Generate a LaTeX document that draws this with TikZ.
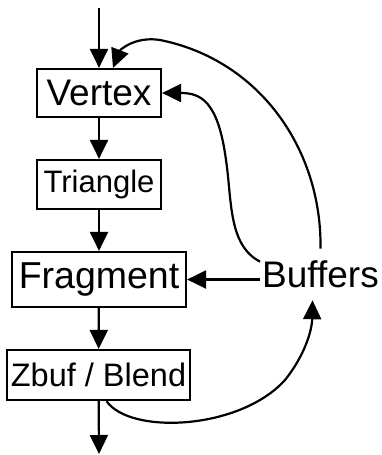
\documentclass[tikz,border=0pt]{standalone}
\usepackage{fontspec}
\setmainfont{Liberation Sans}
\usetikzlibrary{arrows.meta}
\tikzset{
	stage/.style={draw,line width=2.2pt,inner sep=0pt},
	flow/.style={line width=2.2pt,-{Triangle[length=19pt,width=18pt]}},
}
\begin{document}
\begin{tikzpicture}[x=1pt,y=-1pt]
		\useasboundingbox (0,0) rectangle (382,455);
		\node[stage,minimum width=124pt,minimum height=48pt,font=\fontsize{37}{37}\selectfont] (vtx) at (99,93) {Vertex};
		\node[stage,minimum width=124pt,minimum height=49pt,font=\fontsize{31}{31}\selectfont] (tri) at (99,184.5) {Triangle};
		\node[stage,minimum width=174pt,minimum height=55pt,font=\fontsize{37.5}{37.5}\selectfont] (frag) at (99,279.5) {Fragment};
		\node[stage,minimum width=183pt,minimum height=50pt,font=\fontsize{32.5}{32.5}\selectfont] (zb) at (98.5,375) {Zbuf / Blend};
		\node[inner xsep=2pt,inner ysep=12pt,font=\fontsize{37}{37}\selectfont] (buf) at (320.5,274.5) {Buffers};
		\coordinate (in) at (99,8);
		\coordinate (out) at (99,454);
		\draw[flow] (in) -- (vtx);
		\draw[flow] (vtx) -- (tri);
		\draw[flow] (tri) -- (frag);
		\draw[flow] (frag) -- (zb);
		\draw[flow] (zb) -- (out);
		\draw[flow] (buf.west |- frag.east) -- (frag.east);
		\draw[flow] (buf.168) .. controls (228,245) and (232,200) .. (226,160) .. controls (218,100) and (200,93) .. (vtx.east);
		\draw[flow] (buf.north) .. controls (322,150) and (260,60) .. (160,40) .. controls (135,36) and (120,50) .. ([xshift=14pt]vtx.north);
		\draw[flow] ([xshift=8pt]zb.south) .. controls (130,435) and (240,430) .. (285,380) .. controls (305,355) and (312,330) .. ([xshift=-8pt]buf.south);
	\end{tikzpicture}
\end{document}
